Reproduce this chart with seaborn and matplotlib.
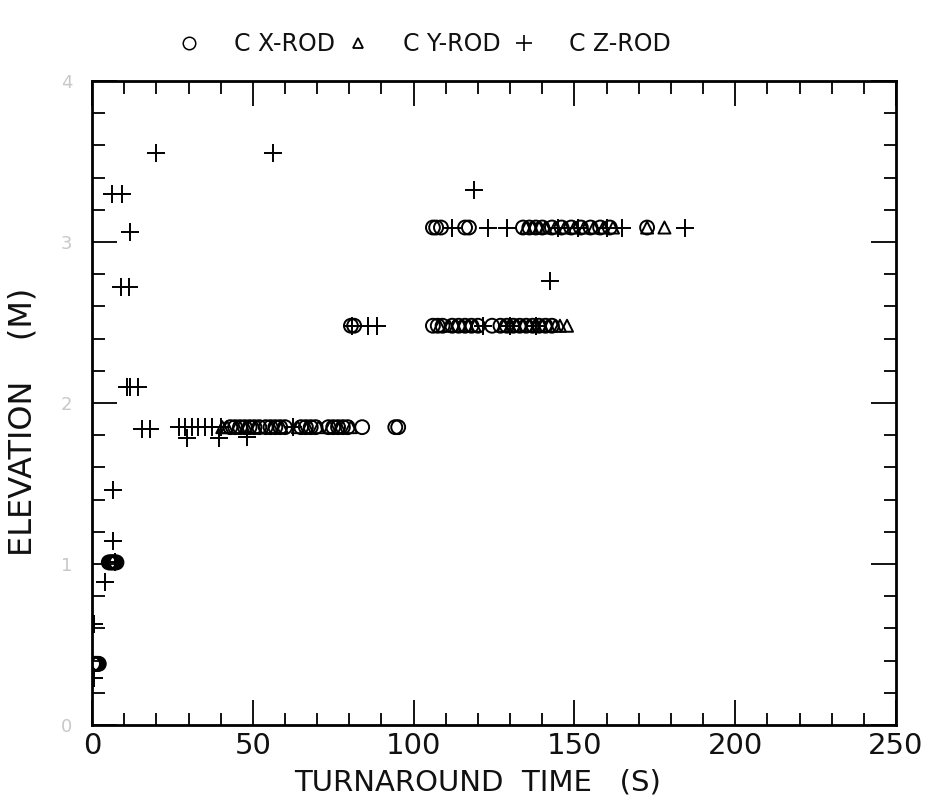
import numpy as np
import pandas as pd
import matplotlib
matplotlib.use("Agg")
import matplotlib.pyplot as plt
from matplotlib.lines import Line2D
from matplotlib.ticker import MultipleLocator
import seaborn as sns

sns.set_theme(style="white")
plt.rcParams['font.family'] = ['DejaVu Sans']

# ---------------- data ----------------
# X-ROD (open circles)
x_rod_t = [0.3, 0.6, 0.9, 1.2, 1.5, 1.8, 2.1,
           5.2, 5.6, 6.0, 6.4, 6.8, 7.2, 7.6,
           43, 44.5, 46, 47.5, 49, 50.5, 52, 54, 55.5, 57, 58.5, 60,
           65, 66.5, 68, 69.5, 73.5, 75, 76.5, 78, 79.5, 84, 94.3, 95.2,
           80.5, 81.5, 106, 107.5, 109, 112, 114, 116, 118, 120, 124.4,
           127, 129, 131, 133, 135, 137, 139, 141, 143,
           106, 107, 108.5, 116, 117.2,
           134, 136, 138, 140, 143, 146, 149, 152, 155, 158, 161, 172.6]
x_rod_e = [0.38, 0.38, 0.38, 0.38, 0.38, 0.38, 0.38,
           1.01, 1.01, 1.01, 1.01, 1.01, 1.01, 1.01,
           1.85, 1.85, 1.85, 1.85, 1.85, 1.85, 1.85, 1.85, 1.85, 1.85, 1.85, 1.85,
           1.85, 1.85, 1.85, 1.85, 1.85, 1.85, 1.85, 1.85, 1.85, 1.85, 1.85, 1.85,
           2.48, 2.48, 2.48, 2.48, 2.48, 2.48, 2.48, 2.48, 2.48, 2.48, 2.48,
           2.48, 2.48, 2.48, 2.48, 2.48, 2.48, 2.48, 2.48, 2.48,
           3.09, 3.09, 3.09, 3.09, 3.09,
           3.09, 3.09, 3.09, 3.09, 3.09, 3.09, 3.09, 3.09, 3.09, 3.09, 3.09, 3.09]

# Y-ROD (open triangles)
y_rod_t = [40.5, 42, 45, 48, 51, 56, 59, 64, 67, 70.5, 74, 77, 80.5,
           108, 111, 113, 115, 117, 119,
           128, 130, 132, 134, 136, 138, 140, 142, 144, 145.5, 147.7,
           135, 137, 139, 141, 144, 147, 150, 153, 156, 159, 162, 172.6, 178]
y_rod_e = [1.85] * 13 + [2.48] * 6 + [2.48] * 11 + [3.09] * 13

# Z-ROD (plus signs)
z_rod_t = [0.6, 0.6, 4.0, 6.5, 7.0, 6.6,
           15.5, 18, 27.0, 29.0, 31.0, 33.0, 35.0, 37.3, 40, 62.5,
           29.5, 39.5, 48.2,
           10.9, 11.8, 14.3, 9.0, 11.5, 11.8, 6.2, 9.3, 19.9, 56.3,
           80.8, 85.8, 88.6, 121.6, 130, 138,
           112, 123, 129, 145, 151, 160, 164.8, 184.4,
           118.8, 142.4]
z_rod_e = [0.29, 0.63, 0.89, 1.14, 1.01, 1.46,
           1.84, 1.84, 1.85, 1.85, 1.85, 1.85, 1.85, 1.85, 1.85, 1.85,
           1.78, 1.78, 1.79,
           2.10, 2.10, 2.10, 2.72, 2.72, 3.06, 3.30, 3.30, 3.55, 3.55,
           2.48, 2.48, 2.48, 2.48, 2.48, 2.48,
           3.09, 3.09, 3.09, 3.09, 3.09, 3.09, 3.09, 3.09,
           3.32, 2.76]

legend_labels = ["C X-ROD", "C Y-ROD", "C Z-ROD"]
x_ticks = [0, 50, 100, 150, 200, 250]
y_ticks = [0, 1, 2, 3, 4]

# ---------------- figure ----------------
fig = plt.figure(figsize=(9.26, 7.99), dpi=100)
ax = fig.add_axes([0.0994, 0.0926, 0.8682, 0.806])

sns.scatterplot(x=x_rod_t, y=x_rod_e, marker='o', s=100, color='black',
                linewidth=1.4, ax=ax, legend=False)
ax.collections[-1].set_facecolor('none')
ax.collections[-1].set_edgecolor('black')
sns.scatterplot(x=y_rod_t, y=y_rod_e, marker='^', s=75, color='black',
                linewidth=1.4, ax=ax, legend=False)
ax.collections[-1].set_facecolor('none')
ax.collections[-1].set_edgecolor('black')
sns.scatterplot(x=z_rod_t, y=z_rod_e, marker='+', s=160, color='black',
                linewidth=1.4, ax=ax, legend=False)

ax.set_xlim(0, 250)
ax.set_ylim(0, 4)
ax.set_xticks(x_ticks)
ax.set_yticks(y_ticks)
ax.xaxis.set_minor_locator(MultipleLocator(10))
ax.yaxis.set_minor_locator(MultipleLocator(0.2))
ax.tick_params(which='both', direction='in', top=True, right=True,
               bottom=True, left=True, color='black', width=1.3)
ax.tick_params(which='major', length=18)
ax.tick_params(which='minor', length=9)
ax.tick_params(axis='x', labelsize=21, pad=5, labelcolor='#111111')
ax.tick_params(axis='y', labelsize=13, pad=14, labelcolor='#c8c8c8')
for sp in ax.spines.values():
    sp.set_color('black')
    sp.set_linewidth(2)
ax.grid(False)

ax.set_xlabel("TURNAROUND  TIME   (S)", fontsize=21, color='#111111')
ax.xaxis.set_label_coords(0.48, -0.068)
ax.set_ylabel("ELEVATION    (M)", fontsize=23, color='#111111')
ax.yaxis.set_label_coords(-0.066, 0.47)

handles = [
    Line2D([], [], linestyle='none', marker='o', markersize=9,
           markerfacecolor='none', markeredgecolor='black', markeredgewidth=1.1),
    Line2D([], [], linestyle='none', marker='^', markersize=7,
           markerfacecolor='none', markeredgecolor='black', markeredgewidth=1.3),
    Line2D([], [], linestyle='none', marker='+', markersize=12,
           markeredgecolor='black', markeredgewidth=1.2),
]
fig.legend(handles, legend_labels, loc='center', bbox_to_anchor=(0.458, 0.945),
           ncol=3, frameon=False, fontsize=17, handlelength=1.0,
           handletextpad=1.4, columnspacing=0.5, borderaxespad=0,
           labelcolor='#111111')

fig.savefig("out.png", dpi=100)
